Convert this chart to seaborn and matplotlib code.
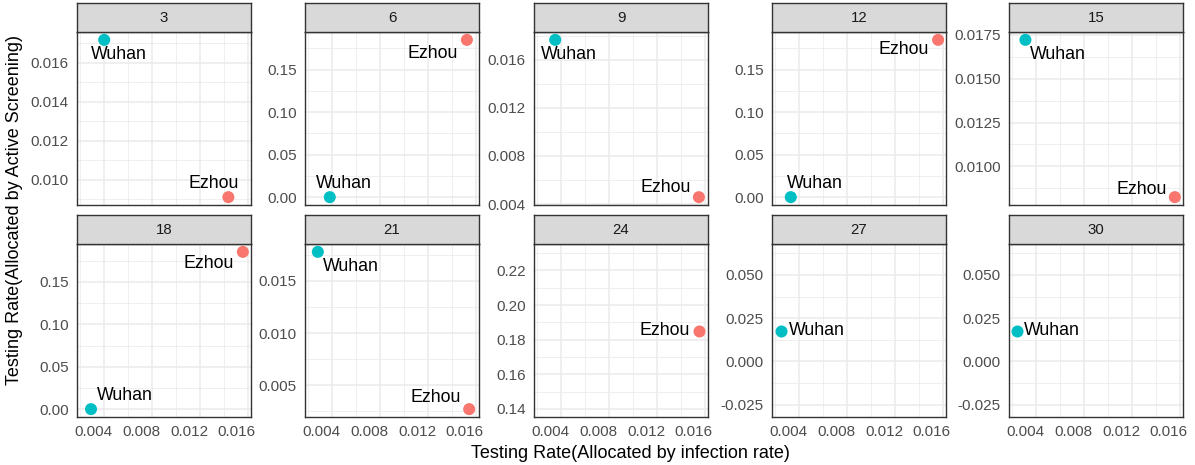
import numpy as np
import pandas as pd
import matplotlib
matplotlib.use("Agg")
import matplotlib.pyplot as plt
import matplotlib.transforms as mtransforms
import seaborn as sns
from matplotlib.ticker import MultipleLocator, FormatStrFormatter

# data
days = [3, 6, 9, 12, 15, 18, 21, 24, 27, 30]
wuhan_x = [0.0040, 0.0038, 0.0035, 0.0033, 0.0031, 0.0029, 0.0028, np.nan, 0.00247, 0.00239]
wuhan_y = [0.01717, 0.0, 0.01765, 0.0, 0.01722, 0.0, 0.01779, np.nan, 0.0179, 0.0179]
ezhou_x = [0.01437, 0.01525, 0.0155, 0.0156, 0.01558, 0.01558, 0.01544, 0.0155, np.nan, np.nan]
ezhou_y = [0.0091, 0.185, 0.00458, 0.185, 0.00824, 0.1855, 0.00272, 0.1853, np.nan, np.nan]
y_tick_step = [0.002, 0.05, 0.004, 0.05, 0.0025, 0.05, 0.005, 0.02, 0.025, 0.025]
x_ticks = [0.004, 0.008, 0.012, 0.016]

df = pd.concat([
    pd.DataFrame({"day": days, "city": "Ezhou", "x": ezhou_x, "y": ezhou_y}),
    pd.DataFrame({"day": days, "city": "Wuhan", "x": wuhan_x, "y": wuhan_y}),
]).dropna()

palette = {"Ezhou": "#F8766D", "Wuhan": "#00BFC4"}

# label nudges in pixels (dx right, dy down), mimicking ggrepel placement
label_nudge = {
    3: {"Wuhan": (15, 15), "Ezhou": (-15, -14)},
    6: {"Wuhan": (14, -14), "Ezhou": (-34, 14)},
    9: {"Wuhan": (14, 15), "Ezhou": (-33, -10)},
    12: {"Wuhan": (24, -14), "Ezhou": (-34, 10)},
    15: {"Wuhan": (32, 15), "Ezhou": (-33, -8)},
    18: {"Wuhan": (34, -14), "Ezhou": (-34, 12)},
    21: {"Wuhan": (33, 15), "Ezhou": (-33, -12)},
    24: {"Ezhou": (-34, 0)},
    27: {"Wuhan": (36, 0)},
    30: {"Wuhan": (35, 0)},
}

sns.set_theme(style="white")
plt.rcParams["font.family"] = ["Liberation Sans", "DejaVu Sans"]
plt.rcParams["axes.unicode_minus"] = False

W, H = 1195, 465
fig = plt.figure(figsize=(W / 100, H / 100), dpi=100)

col_left = [77, 305, 534, 772, 1009]
panel_w = 174
row_strip_top = [3, 215]
strip_h = 29
panel_h = 173

xmin = df["x"].min()
xmax = df["x"].max()
xpad = (xmax - xmin) * 0.05
xlim = (xmin - xpad, xmax + xpad)

grey20 = "#333333"
# x tick labels in the reference sit a little left of their ticks
xlab_shift = mtransforms.ScaledTranslation(-11 / 100, 0, fig.dpi_scale_trans)


def decimals(step):
    for d in range(8):
        if abs(round(step * 10 ** d) - step * 10 ** d) < 1e-9:
            return d
    return 4


for i, day in enumerate(days):
    r, c = divmod(i, 5)
    left = col_left[c]
    stop = row_strip_top[r]
    ptop = stop + strip_h

    ax = fig.add_axes([left / W, 1 - (ptop + panel_h) / H, panel_w / W, panel_h / H])
    sub = df[df["day"] == day]
    sns.scatterplot(data=sub, x="x", y="y", hue="city", palette=palette, s=75,
                    linewidth=0, legend=False, ax=ax, zorder=3)

    ys = sub["y"].values
    if len(ys) == 1:
        ylim = (ys[0] - 0.05, ys[0] + 0.05)
    else:
        ypad = (ys.max() - ys.min()) * 0.05
        ylim = (ys.min() - ypad, ys.max() + ypad)
    ax.set_xlim(xlim)
    ax.set_ylim(ylim)

    step = y_tick_step[i]
    ax.yaxis.set_major_locator(MultipleLocator(step))
    ax.yaxis.set_minor_locator(MultipleLocator(step / 2))
    ax.yaxis.set_major_formatter(FormatStrFormatter(f"%.{decimals(step)}f"))
    ax.set_xticks(x_ticks)
    ax.xaxis.set_minor_locator(MultipleLocator(0.002))
    ax.xaxis.set_major_formatter(FormatStrFormatter("%.3f"))

    ax.grid(which="major", color="#EBEBEB", linewidth=1.1, zorder=0)
    ax.grid(which="minor", color="#EBEBEB", linewidth=0.55, zorder=0)
    ax.set_axisbelow(True)
    ax.tick_params(which="minor", length=0)
    ax.tick_params(which="major", axis="y", length=3.8, width=0.9, color=grey20,
                   labelsize=11, labelcolor="#4D4D4D", pad=2)
    if r == 0:
        ax.tick_params(axis="x", which="major", length=0, labelbottom=False)
    else:
        ax.tick_params(axis="x", which="major", length=3.8, width=0.9, color=grey20,
                       labelsize=11, labelcolor="#4D4D4D", pad=2)
        for lab in ax.get_xticklabels():
            lab.set_transform(lab.get_transform() + xlab_shift)
    for sp in ax.spines.values():
        sp.set_color(grey20)
        sp.set_linewidth(1.0)
    ax.set_xlabel("")
    ax.set_ylabel("")

    for _, row in sub.iterrows():
        dx, dy = label_nudge[day][row["city"]]
        ax.annotate(row["city"], (row["x"], row["y"]), xytext=(dx * 0.72, -dy * 0.72),
                    textcoords="offset points", ha="center", va="center",
                    fontsize=12.8, color="black", zorder=4)

    # facet strip
    sax = fig.add_axes([left / W, 1 - ptop / H, panel_w / W, strip_h / H])
    sax.set_facecolor("#D9D9D9")
    sax.set_xticks([])
    sax.set_yticks([])
    for sp in sax.spines.values():
        sp.set_color(grey20)
        sp.set_linewidth(1.0)
    sax.text(0.5, 0.5, str(day), ha="center", va="center", fontsize=10.8,
             color="#1A1A1A", transform=sax.transAxes)

fig.text((col_left[0] + col_left[4] + panel_w) / 2 / W, 1 - 453 / H,
         "Testing Rate(Allocated by infection rate)", ha="center", va="center",
         fontsize=13, color="black")
fig.text(15 / W, 1 - 210 / H, "Testing Rate(Allocated by Active Screening)",
         ha="center", va="center", rotation=90, fontsize=13, color="black")

fig.savefig("out.png", dpi=100)
